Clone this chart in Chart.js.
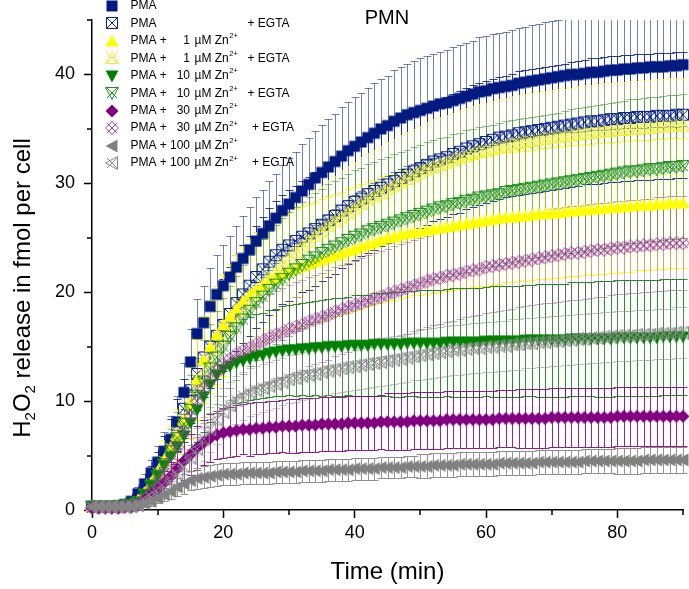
<!DOCTYPE html>
<html>
<head>
<meta charset="utf-8">
<script src="https://cdn.jsdelivr.net/npm/chart.js@4.4.1/dist/chart.umd.min.js"></script>
<style>
  html, body { margin: 0; padding: 0; background: #fff; }
  canvas { display: block; }
</style>
</head>
<body>
<canvas id="pmn_chart" width="689" height="589"></canvas>
<script>
// time axis (min)
const times = [
  0, 1, 2, 3, 4, 5, 6, 7, 8, 9,
  10, 11, 12, 13, 14, 15, 16, 17, 18, 19,
  20, 21, 22, 23, 24, 25, 26, 27, 28, 29,
  30, 31, 32, 33, 34, 35, 36, 37, 38, 39,
  40, 41, 42, 43, 44, 45, 46, 47, 48, 49,
  50, 51, 52, 53, 54, 55, 56, 57, 58, 59,
  60, 61, 62, 63, 64, 65, 66, 67, 68, 69,
  70, 71, 72, 73, 74, 75, 76, 77, 78, 79,
  80, 81, 82, 83, 84, 85, 86, 87, 88, 89,
  90
];

// H2O2 release (fmol per cell)
const pma = [
  0.3, 0.3, 0.3, 0.3, 0.4, 0.5, 0.8, 1.5, 2.4, 3.4,
  4.4, 5.4, 6.5, 8.1, 10.8, 13.6, 16.2, 17.2, 18.7, 19.8,
  20.6, 21.4, 22.3, 23.1, 23.9, 24.7, 25.4, 26.1, 26.8, 27.5,
  28.1, 28.7, 29.3, 29.9, 30.5, 31.0, 31.5, 32.0, 32.5, 33.0,
  33.4, 33.8, 34.2, 34.6, 35.0, 35.3, 35.7, 36.0, 36.3, 36.5,
  36.7, 36.9, 37.1, 37.3, 37.4, 37.6, 37.8, 38.0, 38.2, 38.4,
  38.5, 38.7, 38.8, 38.9, 39.0, 39.2, 39.3, 39.4, 39.5, 39.6,
  39.7, 39.8, 39.9, 40.0, 40.0, 40.1, 40.2, 40.2, 40.3, 40.4,
  40.4, 40.5, 40.5, 40.6, 40.6, 40.7, 40.7, 40.7, 40.8, 40.8,
  40.9
];
const pmaErr = [
  0.2, 0.2, 0.2, 0.2, 0.2, 0.3, 0.4, 0.6, 0.9, 1.2,
  1.5, 1.8, 2.1, 2.4, 2.7, 3.0, 3.2, 3.4, 3.5, 3.6,
  3.7, 3.8, 3.8, 3.9, 3.9, 4.0, 4.0, 4.1, 4.1, 4.2,
  4.2, 4.2, 4.3, 4.3, 4.3, 4.4, 4.4, 4.4, 4.5, 4.5,
  4.5, 4.5, 4.6, 4.6, 4.6, 4.6, 4.7, 4.7, 4.7, 4.7,
  4.8, 4.8, 4.8, 4.8, 4.8, 4.9, 4.9, 4.9, 4.9, 5.0,
  5.0, 5.0, 5.0, 5.0, 5.1, 5.1, 5.1, 5.1, 5.1, 5.2,
  5.2, 5.2, 5.2, 5.3, 5.3, 5.3, 5.3, 5.3, 5.4, 5.4,
  5.4, 5.4, 5.4, 5.5, 5.5, 5.5, 5.5, 5.5, 5.5, 5.6,
  5.6
];
const pmaEgta = [
  0.3, 0.3, 0.3, 0.3, 0.3, 0.4, 0.6, 1.0, 1.8, 2.8,
  3.8, 5.0, 6.3, 7.8, 9.3, 11.0, 12.5, 14.0, 15.0, 16.0,
  17.0, 18.0, 19.0, 19.8, 20.6, 21.4, 22.1, 22.8, 23.4, 23.9,
  24.3, 24.7, 25.1, 25.4, 25.8, 26.2, 26.6, 27.0, 27.5, 27.9,
  28.3, 28.6, 29.0, 29.3, 29.6, 29.9, 30.2, 30.5, 30.8, 31.1,
  31.4, 31.7, 32.0, 32.2, 32.4, 32.7, 32.9, 33.2, 33.4, 33.6,
  33.8, 34.0, 34.2, 34.3, 34.4, 34.6, 34.7, 34.8, 34.9, 35.0,
  35.1, 35.2, 35.3, 35.4, 35.5, 35.6, 35.7, 35.7, 35.8, 35.9,
  35.9, 36.0, 36.0, 36.1, 36.1, 36.1, 36.2, 36.2, 36.2, 36.3,
  36.3
];
const pmaEgtaErr = [
  0.2, 0.2, 0.2, 0.2, 0.2, 0.3, 0.4, 0.6, 0.9, 1.2,
  1.5, 1.8, 2.1, 2.4, 2.7, 3.0, 3.3, 3.6, 3.8, 4.0,
  4.2, 4.3, 4.4, 4.5, 4.6, 4.7, 4.8, 4.9, 5.0, 5.0,
  5.1, 5.1, 5.1, 5.2, 5.2, 5.2, 5.2, 5.3, 5.3, 5.3,
  5.3, 5.3, 5.4, 5.4, 5.4, 5.4, 5.4, 5.4, 5.5, 5.5,
  5.5, 5.5, 5.5, 5.5, 5.5, 5.5, 5.6, 5.6, 5.6, 5.6,
  5.6, 5.6, 5.6, 5.6, 5.6, 5.7, 5.7, 5.7, 5.7, 5.7,
  5.7, 5.7, 5.7, 5.7, 5.7, 5.7, 5.8, 5.8, 5.8, 5.8,
  5.8, 5.8, 5.8, 5.8, 5.8, 5.8, 5.8, 5.8, 5.8, 5.8,
  5.8
];
const zn1 = [
  0.3, 0.3, 0.3, 0.3, 0.3, 0.4, 0.5, 0.9, 1.6, 2.5,
  3.5, 4.6, 5.6, 6.8, 8.2, 9.8, 12.0, 13.8, 15.0, 16.1,
  17.0, 17.8, 18.5, 19.2, 19.8, 20.3, 20.7, 21.1, 21.4, 21.7,
  22.0, 22.2, 22.4, 22.6, 22.8, 23.0, 23.2, 23.4, 23.6, 23.8,
  24.0, 24.2, 24.4, 24.6, 24.8, 25.0, 25.1, 25.3, 25.4, 25.5,
  25.6, 25.7, 25.8, 25.9, 26.0, 26.1, 26.2, 26.3, 26.4, 26.5,
  26.6, 26.7, 26.8, 26.9, 26.9, 27.0, 27.0, 27.1, 27.2, 27.2,
  27.3, 27.3, 27.4, 27.5, 27.5, 27.6, 27.6, 27.7, 27.7, 27.8,
  27.8, 27.9, 27.9, 28.0, 28.0, 28.0, 28.1, 28.1, 28.2, 28.2,
  28.2
];
const zn1Err = [
  0.2, 0.2, 0.2, 0.2, 0.2, 0.3, 0.4, 0.6, 0.9, 1.2,
  1.5, 1.8, 2.1, 2.5, 2.9, 3.3, 3.7, 4.0, 4.3, 4.5,
  4.7, 4.8, 4.9, 5.0, 5.1, 5.2, 5.2, 5.3, 5.3, 5.4,
  5.4, 5.4, 5.5, 5.5, 5.5, 5.6, 5.6, 5.6, 5.6, 5.7,
  5.7, 5.7, 5.7, 5.7, 5.8, 5.8, 5.8, 5.8, 5.8, 5.8,
  5.9, 5.9, 5.9, 5.9, 5.9, 5.9, 5.9, 5.9, 5.9, 5.9,
  6.0, 6.0, 6.0, 6.0, 6.0, 6.0, 6.0, 6.0, 6.0, 6.0,
  6.0, 6.0, 6.0, 6.0, 6.0, 6.0, 6.0, 6.0, 6.0, 6.0,
  6.0, 6.0, 6.0, 6.0, 6.0, 6.0, 6.0, 6.0, 6.0, 6.0,
  6.0
];
const zn1Egta = [
  0.3, 0.3, 0.3, 0.3, 0.3, 0.4, 0.5, 0.8, 1.5, 2.4,
  3.4, 4.5, 5.7, 7.0, 8.4, 9.8, 11.2, 12.5, 13.7, 14.8,
  15.8, 16.7, 17.6, 18.4, 19.2, 19.9, 20.6, 21.3, 21.9, 22.5,
  23.1, 23.7, 24.2, 24.7, 25.2, 25.6, 26.1, 26.5, 26.9, 27.3,
  27.7, 28.1, 28.5, 28.8, 29.1, 29.5, 29.8, 30.1, 30.4, 30.7,
  31.0, 31.3, 31.5, 31.7, 31.9, 32.1, 32.3, 32.5, 32.7, 32.9,
  33.0, 33.2, 33.3, 33.4, 33.6, 33.7, 33.8, 33.9, 34.0, 34.1,
  34.2, 34.3, 34.3, 34.4, 34.5, 34.6, 34.6, 34.7, 34.8, 34.8,
  34.9, 34.9, 35.0, 35.0, 35.1, 35.1, 35.2, 35.2, 35.3, 35.3,
  35.3
];
const zn1EgtaErr = [
  0.2, 0.2, 0.2, 0.2, 0.2, 0.3, 0.4, 0.6, 0.8, 1.0,
  1.3, 1.6, 1.9, 2.2, 2.5, 2.8, 3.0, 3.2, 3.4, 3.5,
  3.6, 3.7, 3.8, 3.8, 3.9, 3.9, 4.0, 4.0, 4.0, 4.1,
  4.1, 4.1, 4.1, 4.2, 4.2, 4.2, 4.2, 4.2, 4.3, 4.3,
  4.3, 4.3, 4.3, 4.3, 4.3, 4.3, 4.3, 4.3, 4.3, 4.3,
  4.3, 4.3, 4.4, 4.4, 4.4, 4.4, 4.4, 4.4, 4.4, 4.4,
  4.4, 4.4, 4.4, 4.4, 4.4, 4.4, 4.4, 4.4, 4.4, 4.4,
  4.4, 4.4, 4.4, 4.4, 4.4, 4.4, 4.4, 4.4, 4.4, 4.4,
  4.4, 4.4, 4.4, 4.4, 4.4, 4.4, 4.4, 4.4, 4.4, 4.4,
  4.4
];
const zn10 = [
  0.3, 0.3, 0.3, 0.3, 0.3, 0.4, 0.5, 0.7, 1.4, 2.3,
  3.2, 4.1, 4.9, 5.8, 6.8, 8.0, 9.2, 10.4, 11.5, 12.4,
  12.9, 13.2, 13.5, 13.7, 13.9, 14.1, 14.2, 14.4, 14.5, 14.6,
  14.7, 14.7, 14.8, 14.8, 14.9, 14.9, 15.0, 15.0, 15.0, 15.1,
  15.1, 15.1, 15.1, 15.2, 15.2, 15.2, 15.2, 15.2, 15.3, 15.3,
  15.3, 15.3, 15.3, 15.3, 15.4, 15.4, 15.4, 15.4, 15.4, 15.4,
  15.5, 15.5, 15.5, 15.5, 15.5, 15.5, 15.6, 15.6, 15.6, 15.6,
  15.6, 15.6, 15.6, 15.7, 15.7, 15.7, 15.7, 15.7, 15.7, 15.7,
  15.8, 15.8, 15.8, 15.8, 15.8, 15.8, 15.8, 15.9, 15.9, 15.9,
  15.9
];
const zn10Err = [
  0.2, 0.2, 0.2, 0.2, 0.2, 0.3, 0.4, 0.6, 0.8, 1.0,
  1.3, 1.6, 1.9, 2.2, 2.5, 2.8, 3.0, 3.2, 3.4, 3.5,
  3.6, 3.7, 3.7, 3.8, 3.8, 3.9, 3.9, 4.0, 4.0, 4.1,
  4.1, 4.2, 4.2, 4.3, 4.3, 4.4, 4.4, 4.5, 4.5, 4.5,
  4.6, 4.6, 4.6, 4.7, 4.7, 4.7, 4.8, 4.8, 4.8, 4.8,
  4.9, 4.9, 4.9, 4.9, 4.9, 5.0, 5.0, 5.0, 5.0, 5.0,
  5.0, 5.1, 5.1, 5.1, 5.1, 5.1, 5.1, 5.1, 5.2, 5.2,
  5.2, 5.2, 5.2, 5.2, 5.2, 5.2, 5.2, 5.3, 5.3, 5.3,
  5.3, 5.3, 5.3, 5.3, 5.3, 5.3, 5.3, 5.3, 5.3, 5.3,
  5.3
];
const zn10Egta = [
  0.3, 0.3, 0.3, 0.3, 0.3, 0.4, 0.5, 0.7, 1.4, 2.2,
  3.1, 4.2, 5.4, 6.6, 7.9, 9.2, 10.5, 11.8, 13.0, 14.0,
  15.0, 15.9, 16.7, 17.5, 18.3, 19.0, 19.6, 20.2, 20.7, 21.2,
  21.7, 22.1, 22.5, 22.9, 23.2, 23.6, 23.9, 24.2, 24.5, 24.8,
  25.1, 25.3, 25.6, 25.8, 26.0, 26.2, 26.4, 26.6, 26.8, 27.0,
  27.2, 27.4, 27.6, 27.8, 27.9, 28.1, 28.2, 28.4, 28.5, 28.7,
  28.8, 28.9, 29.0, 29.2, 29.3, 29.4, 29.5, 29.6, 29.7, 29.8,
  29.9, 30.0, 30.1, 30.2, 30.3, 30.4, 30.5, 30.6, 30.7, 30.8,
  30.9, 31.0, 31.1, 31.1, 31.2, 31.3, 31.3, 31.4, 31.5, 31.5,
  31.6
];
const zn10EgtaErr = [
  0.2, 0.2, 0.2, 0.2, 0.2, 0.3, 0.4, 0.6, 0.8, 1.1,
  1.4, 1.7, 2.0, 2.4, 2.8, 3.2, 3.5, 3.8, 4.1, 4.3,
  4.5, 4.7, 4.8, 5.0, 5.1, 5.2, 5.3, 5.4, 5.5, 5.6,
  5.7, 5.7, 5.8, 5.8, 5.9, 5.9, 6.0, 6.0, 6.0, 6.1,
  6.1, 6.1, 6.2, 6.2, 6.2, 6.2, 6.3, 6.3, 6.3, 6.3,
  6.3, 6.4, 6.4, 6.4, 6.4, 6.4, 6.4, 6.5, 6.5, 6.5,
  6.5, 6.5, 6.5, 6.5, 6.5, 6.5, 6.5, 6.5, 6.5, 6.5,
  6.5, 6.5, 6.5, 6.6, 6.6, 6.6, 6.6, 6.6, 6.6, 6.6,
  6.6, 6.6, 6.6, 6.6, 6.6, 6.6, 6.6, 6.6, 6.6, 6.6,
  6.6
];
const zn30 = [
  0.2, 0.2, 0.2, 0.2, 0.2, 0.3, 0.3, 0.5, 0.9, 1.4,
  1.9, 2.5, 3.1, 3.8, 4.5, 5.1, 5.7, 6.2, 6.6, 6.9,
  7.1, 7.2, 7.3, 7.4, 7.4, 7.5, 7.5, 7.6, 7.6, 7.7,
  7.7, 7.7, 7.8, 7.8, 7.8, 7.9, 7.9, 7.9, 7.9, 8.0,
  8.0, 8.0, 8.0, 8.0, 8.1, 8.1, 8.1, 8.1, 8.1, 8.2,
  8.2, 8.2, 8.2, 8.2, 8.3, 8.3, 8.3, 8.3, 8.3, 8.3,
  8.3, 8.3, 8.4, 8.4, 8.4, 8.4, 8.4, 8.4, 8.4, 8.4,
  8.5, 8.5, 8.5, 8.5, 8.5, 8.5, 8.5, 8.5, 8.5, 8.5,
  8.6, 8.6, 8.6, 8.6, 8.6, 8.6, 8.6, 8.6, 8.6, 8.6,
  8.6
];
const zn30Err = [
  0.1, 0.1, 0.1, 0.1, 0.1, 0.2, 0.2, 0.3, 0.5, 0.7,
  0.9, 1.1, 1.3, 1.5, 1.7, 1.9, 2.0, 2.1, 2.2, 2.2,
  2.3, 2.3, 2.3, 2.3, 2.4, 2.4, 2.4, 2.4, 2.4, 2.4,
  2.5, 2.5, 2.5, 2.5, 2.5, 2.5, 2.5, 2.5, 2.5, 2.5,
  2.5, 2.5, 2.5, 2.5, 2.5, 2.6, 2.6, 2.6, 2.6, 2.6,
  2.6, 2.6, 2.6, 2.6, 2.6, 2.6, 2.6, 2.6, 2.6, 2.6,
  2.6, 2.6, 2.6, 2.6, 2.6, 2.7, 2.7, 2.7, 2.7, 2.7,
  2.7, 2.7, 2.7, 2.7, 2.7, 2.7, 2.7, 2.7, 2.7, 2.7,
  2.7, 2.7, 2.7, 2.7, 2.7, 2.7, 2.7, 2.7, 2.7, 2.7,
  2.7
];
const zn30Egta = [
  0.2, 0.2, 0.2, 0.2, 0.2, 0.3, 0.3, 0.5, 1.0, 1.7,
  2.5, 3.4, 4.5, 5.8, 7.2, 8.6, 10.0, 11.1, 12.0, 12.8,
  13.4, 13.9, 14.3, 14.6, 14.9, 15.2, 15.5, 15.8, 16.1, 16.3,
  16.6, 16.8, 17.0, 17.3, 17.5, 17.7, 17.9, 18.2, 18.4, 18.6,
  18.8, 19.0, 19.2, 19.4, 19.6, 19.8, 20.0, 20.2, 20.4, 20.6,
  20.8, 21.0, 21.2, 21.3, 21.5, 21.6, 21.7, 21.9, 22.0, 22.1,
  22.3, 22.4, 22.5, 22.6, 22.7, 22.8, 22.9, 23.0, 23.1, 23.2,
  23.3, 23.4, 23.5, 23.6, 23.6, 23.7, 23.8, 23.9, 23.9, 24.0,
  24.1, 24.1, 24.2, 24.2, 24.3, 24.3, 24.4, 24.4, 24.5, 24.5,
  24.5
];
const zn30EgtaErr = [
  0.1, 0.1, 0.1, 0.1, 0.1, 0.2, 0.2, 0.3, 0.5, 0.8,
  1.1, 1.4, 1.8, 2.2, 2.6, 3.0, 3.3, 3.5, 3.6, 3.7,
  3.8, 3.8, 3.9, 3.9, 3.9, 4.0, 4.0, 4.0, 4.0, 4.1,
  4.1, 4.1, 4.1, 4.1, 4.1, 4.1, 4.1, 4.1, 4.1, 4.1,
  4.1, 4.1, 4.2, 4.2, 4.2, 4.2, 4.2, 4.2, 4.2, 4.2,
  4.2, 4.2, 4.2, 4.2, 4.2, 4.2, 4.2, 4.2, 4.2, 4.2,
  4.2, 4.2, 4.2, 4.2, 4.2, 4.2, 4.2, 4.2, 4.2, 4.2,
  4.3, 4.3, 4.3, 4.3, 4.3, 4.3, 4.3, 4.3, 4.3, 4.3,
  4.3, 4.3, 4.3, 4.3, 4.3, 4.3, 4.3, 4.3, 4.3, 4.3,
  4.3
];
const zn100 = [
  0.3, 0.3, 0.3, 0.3, 0.3, 0.3, 0.3, 0.4, 0.6, 0.8,
  1.1, 1.4, 1.7, 2.1, 2.4, 2.7, 2.9, 3.0, 3.1, 3.2,
  3.3, 3.3, 3.3, 3.4, 3.4, 3.4, 3.4, 3.4, 3.5, 3.5,
  3.5, 3.5, 3.6, 3.6, 3.6, 3.6, 3.7, 3.7, 3.7, 3.7,
  3.8, 3.8, 3.8, 3.8, 3.9, 3.9, 3.9, 3.9, 4.0, 4.0,
  4.0, 4.0, 4.1, 4.1, 4.1, 4.1, 4.2, 4.2, 4.2, 4.2,
  4.2, 4.2, 4.3, 4.3, 4.3, 4.3, 4.3, 4.3, 4.4, 4.4,
  4.4, 4.4, 4.4, 4.4, 4.4, 4.5, 4.5, 4.5, 4.5, 4.5,
  4.5, 4.5, 4.5, 4.5, 4.6, 4.6, 4.6, 4.6, 4.6, 4.6,
  4.6
];
const zn100Err = [
  0.1, 0.1, 0.1, 0.1, 0.1, 0.1, 0.1, 0.2, 0.3, 0.4,
  0.5, 0.6, 0.7, 0.8, 0.9, 0.9, 1.0, 1.0, 1.0, 1.0,
  1.0, 1.0, 1.0, 1.0, 1.0, 1.0, 1.0, 1.0, 1.0, 1.0,
  1.0, 1.0, 1.0, 1.0, 1.0, 1.0, 1.0, 1.0, 1.0, 1.0,
  1.0, 1.0, 1.0, 1.0, 1.0, 1.0, 1.0, 1.0, 1.0, 1.0,
  1.1, 1.1, 1.1, 1.1, 1.1, 1.1, 1.1, 1.1, 1.1, 1.1,
  1.1, 1.1, 1.1, 1.1, 1.1, 1.1, 1.1, 1.1, 1.1, 1.1,
  1.1, 1.1, 1.1, 1.1, 1.1, 1.1, 1.1, 1.1, 1.1, 1.1,
  1.2, 1.2, 1.2, 1.2, 1.2, 1.2, 1.2, 1.2, 1.2, 1.2,
  1.2
];
const zn100Egta = [
  0.3, 0.3, 0.3, 0.3, 0.3, 0.3, 0.4, 0.5, 0.8, 1.2,
  1.6, 2.1, 2.7, 3.3, 4.0, 4.8, 5.6, 6.5, 7.4, 8.3,
  9.0, 9.6, 10.1, 10.5, 10.8, 11.0, 11.2, 11.4, 11.6, 11.8,
  12.0, 12.1, 12.3, 12.4, 12.5, 12.7, 12.8, 12.9, 13.0, 13.1,
  13.2, 13.3, 13.4, 13.5, 13.6, 13.7, 13.8, 13.9, 14.0, 14.1,
  14.2, 14.3, 14.4, 14.5, 14.6, 14.7, 14.7, 14.8, 14.9, 14.9,
  15.0, 15.0, 15.1, 15.1, 15.2, 15.2, 15.3, 15.3, 15.4, 15.4,
  15.5, 15.5, 15.6, 15.6, 15.7, 15.7, 15.8, 15.8, 15.9, 15.9,
  16.0, 16.0, 16.0, 16.1, 16.1, 16.1, 16.2, 16.2, 16.2, 16.3,
  16.3
];
const zn100EgtaErr = [
  0.1, 0.1, 0.1, 0.1, 0.1, 0.1, 0.2, 0.3, 0.4, 0.6,
  0.8, 1.0, 1.2, 1.4, 1.6, 1.8, 1.9, 2.0, 2.1, 2.2,
  2.2, 2.2, 2.2, 2.2, 2.2, 2.2, 2.2, 2.2, 2.2, 2.2,
  2.2, 2.2, 2.2, 2.2, 2.2, 2.2, 2.2, 2.2, 2.2, 2.2,
  2.2, 2.2, 2.2, 2.2, 2.2, 2.2, 2.2, 2.2, 2.2, 2.2,
  2.3, 2.3, 2.3, 2.3, 2.3, 2.3, 2.3, 2.3, 2.3, 2.3,
  2.3, 2.3, 2.3, 2.3, 2.3, 2.3, 2.3, 2.3, 2.3, 2.3,
  2.3, 2.3, 2.3, 2.3, 2.3, 2.3, 2.3, 2.3, 2.3, 2.3,
  2.3, 2.3, 2.3, 2.3, 2.3, 2.3, 2.3, 2.3, 2.3, 2.3,
  2.3
];

// legend entries
const zincConc = ['', '', '1', '1', '10', '10', '30', '30', '100', '100'];
const withEgta = [false, true, false, true, false, true, false, true, false, true];

(function () {
  const FONT = "'Liberation Sans', Arial, sans-serif";
  const series = [pma, pmaEgta, zn1, zn1Egta, zn10, zn10Egta, zn30, zn30Egta, zn100, zn100Egta];
  const errors = [pmaErr, pmaEgtaErr, zn1Err, zn1EgtaErr, zn10Err, zn10EgtaErr, zn30Err, zn30EgtaErr, zn100Err, zn100EgtaErr];
  const shapes = ['square', 'square', 'triUp', 'triUp', 'triDown', 'triDown', 'diamond', 'diamond', 'triLeft', 'triLeft'];
  const colors = ['#001a80', '#0a2090', '#ffff00', '#f0f030', '#008000', '#1f8f1f', '#800080', '#9a3a9a', '#808080', '#8a8a8a'];
  const barColors = [
    'rgba(0,26,128,0.55)', 'rgba(20,40,150,0.9)',
    'rgba(255,255,0,0.9)', 'rgba(255,255,90,0.6)',
    'rgba(0,128,0,0.85)', 'rgba(0,128,0,0.45)',
    'rgba(128,0,128,0.85)', 'rgba(150,60,150,0.45)',
    'rgba(128,128,128,0.85)', 'rgba(128,128,128,0.45)'
  ];

  function makeMarker(shape, color, open) {
    const S = 14, m = 0.5, e = S - 0.5, h = S / 2;
    const c = document.createElement("canvas");
    c.width = S;
    c.height = S;
    const g = c.getContext("2d");
    g.strokeStyle = color;
    g.fillStyle = color;
    g.lineWidth = 1;
    const pts = {
      square: [[1.5, 1.5], [e - 1, 1.5], [e - 1, e - 1], [1.5, e - 1]],
      triUp: [[h, m], [e, e - 1], [m, e - 1]],
      triDown: [[m, 1.5], [e, 1.5], [h, e]],
      diamond: [[h, m], [e, h], [h, e], [m, h]],
      triLeft: [[m, h], [e - 1, m], [e - 1, e]],
    }[shape];
    g.beginPath();
    pts.forEach(([px, py], i) => (i ? g.lineTo(px, py) : g.moveTo(px, py)));
    g.closePath();
    if (open) {
      g.stroke();
      g.beginPath();
      g.moveTo(2, 2); g.lineTo(S - 2, S - 2);
      g.moveTo(S - 2, 2); g.lineTo(2, S - 2);
      g.stroke();
    } else {
      g.fill();
    }
    return c;
  }

  const datasets = series.map((vals, i) => ({
    label: "PMA" + (zincConc[i] ? " + " + zincConc[i] + " µM Zn²⁺" : "") + (withEgta[i] ? " + EGTA" : ""),
    data: vals.map((v, j) => ({ x: times[j], y: v })),
    errors: errors[i],
    barColor: barColors[i],
    pointStyle: makeMarker(shapes[i], colors[i], withEgta[i]),
    pointRadius: 5,
    showLine: false,
    clip: false,
    order: series.length - i,
  }));

  // vertical error bars with caps, drawn through the chart scales
  const errorBars = {
    id: "errorBars",
    beforeDatasetsDraw(chart) {
      const { ctx, chartArea: a, scales: { x, y } } = chart;
      ctx.save();
      ctx.beginPath();
      ctx.rect(a.left - 5, a.top, a.right - a.left + 10, a.bottom - a.top);
      ctx.clip();
      ctx.lineWidth = 1;
      chart.data.datasets.forEach((ds) => {
        ctx.strokeStyle = ds.barColor;
        ctx.beginPath();
        ds.data.forEach((p, j) => {
          const e = ds.errors[j];
          const px = Math.round(x.getPixelForValue(p.x)) + 0.5;
          const top = Math.round(y.getPixelForValue(p.y + e)) + 0.5;
          const bot = Math.round(y.getPixelForValue(p.y - e)) + 0.5;
          ctx.moveTo(px, top); ctx.lineTo(px, bot);
          ctx.moveTo(px - 4, top); ctx.lineTo(px + 4, top);
          ctx.moveTo(px - 4, bot); ctx.lineTo(px + 4, bot);
        });
        ctx.stroke();
      });
      ctx.restore();
    },
  };

  // minor ticks, legend, title and y axis title
  const decorations = {
    id: "decorations",
    afterDraw(chart) {
      const { ctx, chartArea: a, scales: { x, y } } = chart;
      ctx.save();
      ctx.strokeStyle = "#000";
      ctx.lineWidth = 1.5;
      ctx.beginPath();
      [10, 30, 50, 70, 90].forEach((v) => {
        const px = Math.round(x.getPixelForValue(v));
        ctx.moveTo(px, a.bottom); ctx.lineTo(px, a.bottom + 5);
      });
      [5, 15, 25, 35, 45].forEach((v) => {
        const py = Math.round(y.getPixelForValue(v));
        ctx.moveTo(a.left, py); ctx.lineTo(a.left - 5, py);
      });
      ctx.stroke();

      // legend
      ctx.fillStyle = "#000";
      ctx.textBaseline = "middle";
      const lf = "12px " + FONT;
      chart.data.datasets.forEach((ds, i) => {
        const ry = 6 + i * 17.45;
        ctx.drawImage(ds.pointStyle, 105, Math.round(ry - 7));
        ctx.font = lf;
        ctx.textAlign = "left";
        if (zincConc[i]) {
          ctx.fillText("PMA +", 130.5, ry);
          ctx.textAlign = "right";
          ctx.fillText(zincConc[i], 190, ry);
          ctx.textAlign = "left";
          ctx.fillText("µM Zn", 194.5, ry);
          const w = ctx.measureText("µM Zn").width;
          ctx.font = "7.5px " + FONT;
          ctx.fillText("2+", 195 + w, ry - 4.5);
          ctx.font = lf;
        } else {
          ctx.fillText("PMA", 130.5, ry);
        }
        if (withEgta[i]) {
          const ex = (zincConc[i] === "30" || zincConc[i] === "100") ? 252 : 247.5;
          ctx.fillText("+ EGTA", ex, ry);
        }
      });

      // chart title
      ctx.font = "20px " + FONT;
      ctx.textAlign = "center";
      ctx.fillText("PMN", 387, 18);

      // y axis title with subscripts
      ctx.translate(22, 288);
      ctx.rotate(-Math.PI / 2);
      ctx.textAlign = "left";
      ctx.textBaseline = "alphabetic";
      const big = "24px " + FONT, small = "15px " + FONT;
      const parts = [["H", big, 0], ["2", small, 5], ["O", big, 0], ["2", small, 5], [" release in fmol per cell", big, 0]];
      let total = 0;
      parts.forEach((p) => { ctx.font = p[1]; total += ctx.measureText(p[0]).width; });
      let cx = -total / 2;
      parts.forEach((p) => {
        ctx.font = p[1];
        ctx.fillText(p[0], cx, 8 + p[2]);
        cx += ctx.measureText(p[0]).width;
      });
      ctx.restore();
    },
  };

  new Chart(document.getElementById("pmn_chart"), {
    type: "scatter",
    data: { datasets: datasets },
    options: {
      responsive: false,
      animation: false,
      events: [],
      layout: { padding: { top: 20, right: 3, left: 0, bottom: 0 } },
      plugins: { legend: { display: false }, tooltip: { enabled: false } },
      scales: {
        x: {
          type: "linear",
          min: 0,
          max: 90,
          ticks: { stepSize: 20, includeBounds: false, color: "#000", padding: 4, maxRotation: 0, font: { family: FONT, size: 18 } },
          grid: { drawOnChartArea: false, drawTicks: true, tickLength: 8, tickColor: "#000", tickWidth: 1.5 },
          border: { color: "#000", width: 1.5 },
          title: { display: true, text: "Time (min)", color: "#000", font: { family: FONT, size: 24 }, padding: { top: 4, bottom: 2 } },
          afterFit: (s) => { s.height = 79; },
        },
        y: {
          type: "linear",
          min: 0,
          max: 45,
          ticks: { stepSize: 10, includeBounds: false, color: "#000", padding: 9, font: { family: FONT, size: 18 } },
          grid: { drawOnChartArea: false, drawTicks: true, tickLength: 8, tickColor: "#000", tickWidth: 1.5 },
          border: { color: "#000", width: 1.5 },
          afterFit: (s) => { s.width = 92; },
        },
      },
    },
    plugins: [errorBars, decorations],
  });
})();
</script>
</body>
</html>
